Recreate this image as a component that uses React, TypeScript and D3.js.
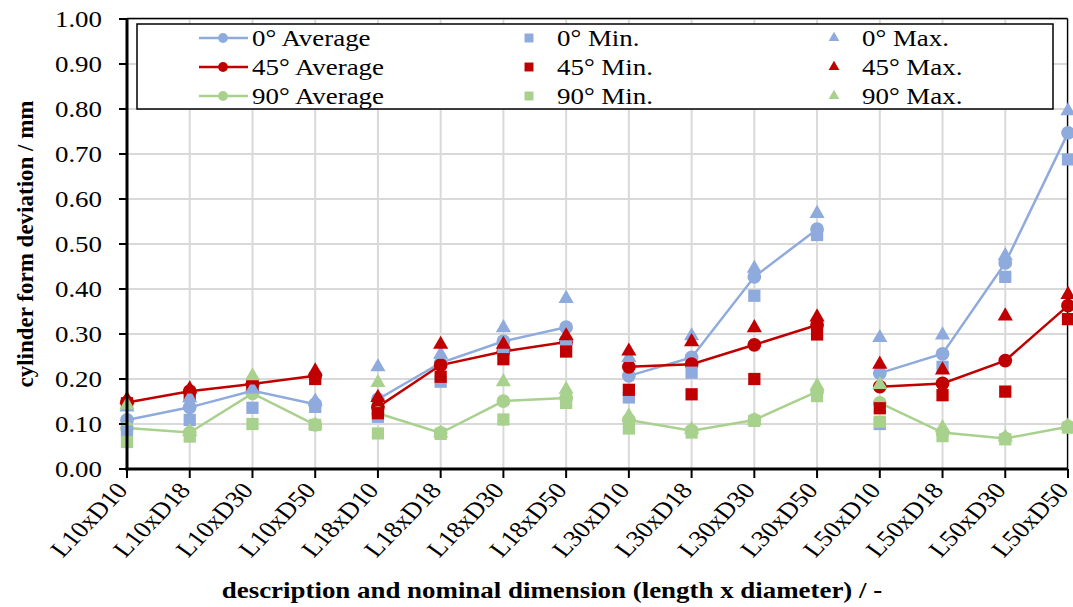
import React from 'react';
import * as d3 from 'd3';

const categories = [
  'L10xD10', 'L10xD18', 'L10xD30', 'L10xD50',
  'L18xD10', 'L18xD18', 'L18xD30', 'L18xD50',
  'L30xD10', 'L30xD18', 'L30xD30', 'L30xD50',
  'L50xD10', 'L50xD18', 'L50xD30', 'L50xD50',
];

const avg0 = [0.109, 0.137, 0.174, 0.144, 0.155, 0.236, 0.284, 0.315, 0.207, 0.248, 0.427, 0.533, 0.213, 0.256, 0.458, 0.747];
const min0 = [0.083, 0.109, 0.136, 0.138, 0.116, 0.194, 0.264, 0.281, 0.159, 0.214, 0.385, 0.52, 0.1, 0.227, 0.427, 0.688];
const max0 = [0.14, 0.16, 0.18, 0.153, 0.229, 0.257, 0.316, 0.381, 0.25, 0.298, 0.448, 0.57, 0.294, 0.3, 0.476, 0.798];

const avg45 = [0.148, 0.173, 0.189, 0.207, 0.138, 0.231, 0.261, 0.282, 0.227, 0.233, 0.276, 0.32, 0.183, 0.19, 0.241, 0.363];
const min45 = [0.146, 0.163, 0.187, 0.2, 0.124, 0.205, 0.244, 0.261, 0.176, 0.166, 0.2, 0.299, 0.135, 0.164, 0.172, 0.333];
const max45 = [0.157, 0.18, 0.2, 0.22, 0.161, 0.279, 0.279, 0.298, 0.264, 0.285, 0.316, 0.34, 0.235, 0.222, 0.342, 0.39];

const avg90 = [0.091, 0.081, 0.168, 0.098, 0.124, 0.08, 0.151, 0.158, 0.109, 0.085, 0.109, 0.172, 0.147, 0.081, 0.068, 0.094];
const min90 = [0.06, 0.072, 0.1, 0.098, 0.079, 0.078, 0.11, 0.147, 0.09, 0.081, 0.107, 0.162, 0.105, 0.073, 0.066, 0.092];
const max90 = [0.145, 0.085, 0.209, 0.1, 0.194, 0.082, 0.196, 0.179, 0.12, 0.09, 0.11, 0.187, 0.19, 0.094, 0.073, 0.098];

const yTicks = [0, 0.1, 0.2, 0.3, 0.4, 0.5, 0.6, 0.7, 0.8, 0.9, 1.0];
// lines are broken after every 4 categories (same length group)
const groupSize = 4;

const BLUE = '#8FAADC';
const RED = '#C00000';
const GREEN = '#A9D18E';

const series = [
  { name: '0° Average', type: 'avg', color: BLUE, values: avg0 },
  { name: '45° Average', type: 'avg', color: RED, values: avg45 },
  { name: '90° Average', type: 'avg', color: GREEN, values: avg90 },
  { name: '0° Min.', type: 'min', color: BLUE, values: min0 },
  { name: '45° Min.', type: 'min', color: RED, values: min45 },
  { name: '90° Min.', type: 'min', color: GREEN, values: min90 },
  { name: '0° Max.', type: 'max', color: BLUE, values: max0 },
  { name: '45° Max.', type: 'max', color: RED, values: max45 },
  { name: '90° Max.', type: 'max', color: GREEN, values: max90 },
];

const serif = { fontFamily: "'Liberation Serif'" };
// the original picture is a bit wider than tall, text looks stretched sideways
const SX = 1.17;

const width = 1073;
const height = 607;
const margin = { top: 19, right: 5, bottom: 138, left: 127 };

const symbolFor = (type: string) =>
  type === 'avg' ? d3.symbolCircle : type === 'min' ? d3.symbolSquare : d3.symbolTriangle;

const App = () => {
  const x = d3.scalePoint<string>()
    .domain(categories)
    .range([margin.left, width - margin.right]);

  const y = d3.scaleLinear()
    .domain([0, 1])
    .range([height - margin.bottom, margin.top]);

  const markerSize: Record<string, number> = { avg: 150, min: 150, max: 100 };
  const legendSize: Record<string, number> = { avg: 75, min: 80, max: 50 };

  const groups = d3.range(0, categories.length, groupSize);

  const x0 = margin.left;
  const x1 = width - margin.right;
  const y0 = y(0);
  const y1 = y(1);

  const legendRows = [38, 67, 96];
  const legendCols = [
    { mark: 223, text: 252 },
    { mark: 529, text: 557 },
    { mark: 834, text: 862 },
  ];

  return (
    <svg width={width} height={height}
      style={{ position: 'absolute', left: 0, top: 0, background: '#fff' }}>
      {/* grid */}
      {yTicks.map(t => (
        <line key={'gy' + t} x1={x0} x2={x1} y1={y(t)} y2={y(t)} stroke="#D9D9D9" strokeWidth={2} />
      ))}
      {categories.map(c => (
        <line key={'gx' + c} x1={x(c)} x2={x(c)} y1={y1} y2={y0} stroke="#D9D9D9" strokeWidth={2} />
      ))}
      {/* plot frame top/right */}
      <line x1={x0} x2={x1 - 0.5} y1={y1 - 0.5} y2={y1 - 0.5} stroke="#000" strokeWidth={1.3} />
      <line x1={x1 - 0.5} x2={x1 - 0.5} y1={y1 - 0.5} y2={y0} stroke="#000" strokeWidth={1.3} />

      {/* average lines, one segment per group */}
      {series.filter(s => s.type === 'avg').map(s => (
        <g key={'l' + s.name}>
          {groups.map(g => {
            const cats = categories.slice(g, g + groupSize);
            const vals = s.values.slice(g, g + groupSize);
            const path = d3.line<number>()
              .x((_, i) => x(cats[i]) as number)
              .y(d => y(d))(vals);
            return <path key={g} d={path || ''} fill="none" stroke={s.color} strokeWidth={2.5} />;
          })}
        </g>
      ))}
      {/* markers */}
      {series.map(s => {
        const sym = d3.symbol().type(symbolFor(s.type)).size(markerSize[s.type])();
        return (
          <g key={'m' + s.name}>
            {s.values.map((v, i) => (
              <path key={i} d={sym || ''}
                transform={`translate(${x(categories[i])},${y(v) + (s.type === 'max' ? 1 : 0)})`}
                fill={s.color} />
            ))}
          </g>
        );
      })}

      {/* axes */}
      <line x1={x0} x2={x0} y1={y1 - 1} y2={y0 + 1.5} stroke="#000" strokeWidth={3} />
      <line x1={x0 - 1.5} x2={x1} y1={y0} y2={y0} stroke="#000" strokeWidth={3} />
      {yTicks.map(t => (
        <g key={'yt' + t}>
          <line x1={x0 - 8} x2={x0} y1={y(t)} y2={y(t)} stroke="#000" strokeWidth={2} />
          <text transform={`translate(102,${y(t)}) scale(${SX},1)`} dy="0.35em" textAnchor="end"
            fontSize={23} style={serif}>{t.toFixed(2)}</text>
        </g>
      ))}
      {categories.map(c => (
        <g key={'xt' + c}>
          <line x1={x(c)} x2={x(c)} y1={y0} y2={y0 + 9} stroke="#000" strokeWidth={2} />
          <text transform={`translate(${(x(c) as number) + 2},${y0 + 22}) scale(${SX},1) rotate(-50)`}
            textAnchor="end" fontSize={23} style={serif}>{c}</text>
        </g>
      ))}

      {/* axis titles */}
      <text transform={`translate(552,598) scale(${SX},1)`} textAnchor="middle" fontSize={23}
        fontWeight="bold" style={serif}>
        description and nominal dimension (length x diameter) / -
      </text>
      <text transform={`translate(33,${(y0 + y1) / 2}) rotate(-90)`} textAnchor="middle" fontSize={23}
        fontWeight="bold" style={serif}>cylinder form deviation / mm</text>

      {/* legend */}
      <rect x={137} y={24} width={916} height={85} fill="#fff" stroke="#000" strokeWidth={1.5} />
      {series.map((s, i) => {
        const col = legendCols[Math.floor(i / 3)];
        const ry = legendRows[i % 3];
        const sym = d3.symbol().type(symbolFor(s.type)).size(legendSize[s.type])();
        return (
          <g key={'lg' + s.name}>
            {s.type === 'avg' && (
              <line x1={col.mark - 24} x2={col.mark + 25} y1={ry} y2={ry} stroke={s.color} strokeWidth={2.5} />
            )}
            <path d={sym || ''} transform={`translate(${col.mark},${ry})`} fill={s.color} />
            <text transform={`translate(${col.text},${ry}) scale(${SX},1)`} dy="0.35em" fontSize={23}
              style={serif}>{s.name}</text>
          </g>
        );
      })}
    </svg>
  );
};

export default App;
